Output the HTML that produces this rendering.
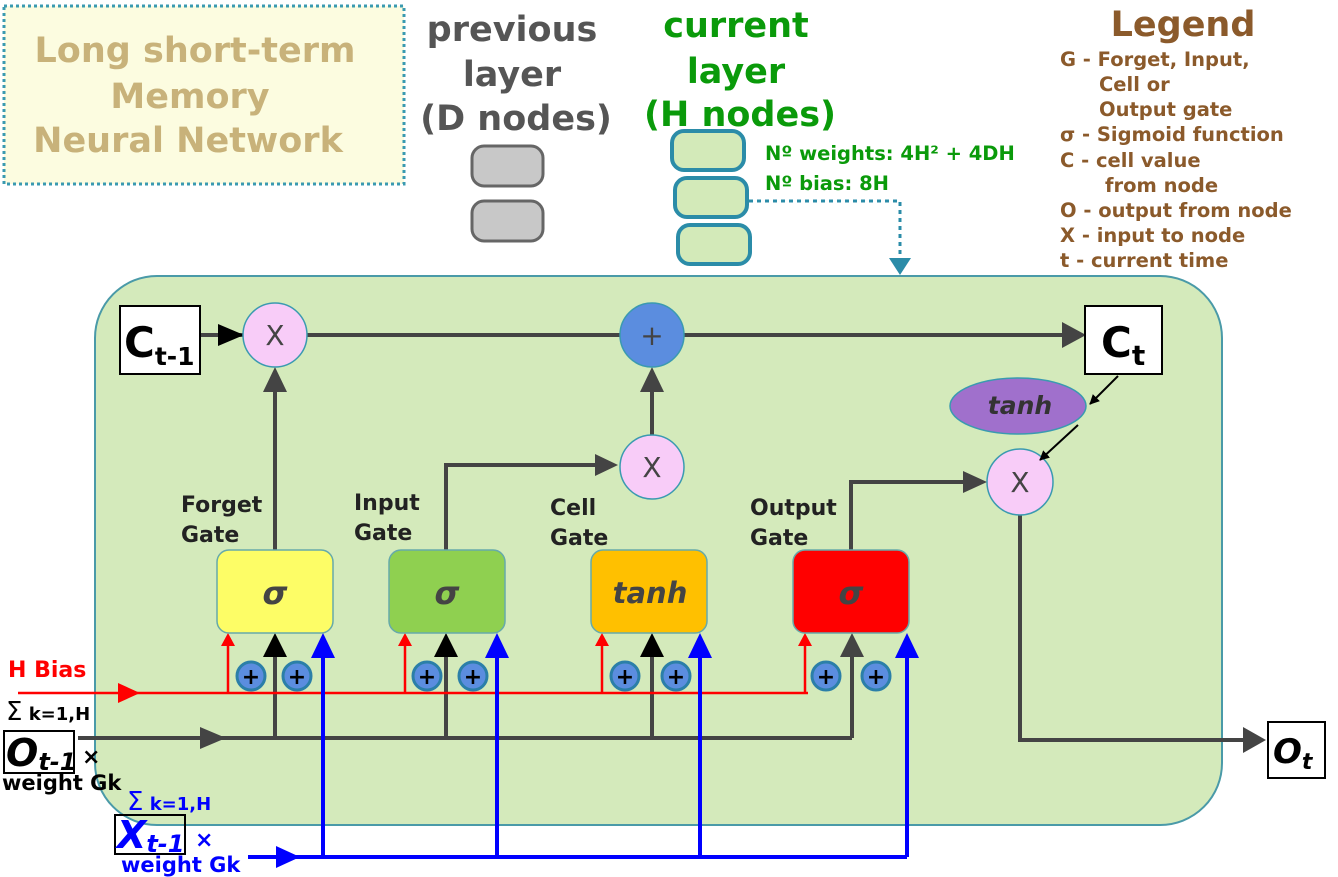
<!DOCTYPE html>
<html><head><meta charset="utf-8"><style>
html,body{margin:0;padding:0;background:#fff;}
svg{display:block;font-family:"DejaVu Sans","Liberation Sans",sans-serif;font-weight:bold;}
</style></head><body>
<svg width="1338" height="877" viewBox="0 0 1338 877" xmlns="http://www.w3.org/2000/svg">
<defs>
<marker id="ak" markerWidth="10" markerHeight="10" refX="9" refY="5" orient="auto" markerUnits="userSpaceOnUse" viewBox="0 0 10 10"><path d="M0,0 L10,5 L0,10z" fill="#000"/></marker>
</defs>
<rect x="4" y="6" width="400" height="178" fill="#fcfce0" stroke="#3a9ab0" stroke-width="3" stroke-dasharray="3,3"/>
<g fill="#c8b27a" font-size="35" text-anchor="middle">
<text x="195" y="62">Long short-term</text>
<text x="190" y="108">Memory</text>
<text x="188" y="152">Neural Network</text>
</g>
<g fill="#555" font-size="35" text-anchor="middle">
<text x="512" y="41">previous</text>
<text x="512" y="86">layer</text>
<text x="516" y="130">(D nodes)</text>
</g>
<rect x="472" y="146" width="71" height="40" rx="12" fill="#c8c8c8" stroke="#666" stroke-width="3"/>
<rect x="472" y="201" width="71" height="40" rx="12" fill="#c8c8c8" stroke="#666" stroke-width="3"/>
<g fill="#0a9a0a" font-size="35" text-anchor="middle">
<text x="736" y="37">current</text>
<text x="736" y="83">layer</text>
<text x="740" y="126">(H nodes)</text>
</g>
<g fill="#d3eab9" stroke="#2b8ca8" stroke-width="4">
<rect x="672" y="131" width="72" height="39" rx="12"/>
<rect x="675" y="178" width="72" height="39" rx="12"/>
<rect x="678" y="225" width="72" height="39" rx="12"/>
</g>
<g fill="#0a9a0a" font-size="19.5">
<text x="765" y="160">Nº weights: 4H² + 4DH</text>
<text x="765" y="190">Nº bias: 8H</text>
</g>
<path d="M749,201 H900 V258" fill="none" stroke="#2b8ca8" stroke-width="3" stroke-dasharray="4,4"/>
<path d="M889,258 L911,258 L900,275z" fill="#2b8ca8"/>
<text x="1183" y="36" fill="#8b5a2b" font-size="35" text-anchor="middle">Legend</text>
<g fill="#8b5a2b" font-size="19.5">
<text x="1060" y="66">G - Forget, Input,</text>
<text x="1099" y="91">Cell or</text>
<text x="1099" y="116">Output gate</text>
<text x="1060" y="141">σ  - Sigmoid function</text>
<text x="1060" y="167">C  - cell value</text>
<text x="1105" y="192">from node</text>
<text x="1060" y="217">O  - output from node</text>
<text x="1060" y="242">X -  input to node</text>
<text x="1060" y="267">t  -  current time</text>
</g>
<rect x="95" y="276" width="1127" height="549" rx="62" fill="#d4eabb" stroke="#4a9aa8" stroke-width="2"/>
<g stroke="#444" stroke-width="4" fill="none">
<line x1="200" y1="335" x2="1062" y2="335"/>
<line x1="275" y1="550" x2="275" y2="390"/>
<line x1="652" y1="435" x2="652" y2="390"/>
<path d="M446,550 V465 H597"/>
<path d="M851,550 V482 H965"/>
<path d="M1020,515 V740 H1245"/>
<line x1="78" y1="738" x2="852" y2="738"/>
<line x1="275" y1="738" x2="275" y2="655"/>
<line x1="446" y1="738" x2="446" y2="655"/>
<line x1="652" y1="738" x2="652" y2="655"/>
<line x1="852" y1="738" x2="852" y2="655"/>
</g>
<g fill="#444">
<path d="M1062,322 L1086,335 L1062,348z"/>
<path d="M218,324 L244,335 L218,346z" fill="#000"/>
<path d="M263,392 L287,392 L275,367z"/>
<path d="M640,392 L664,392 L652,367z"/>
<path d="M595,454 L618,465 L595,476z"/>
<path d="M963,471 L987,482 L963,493z"/>
<path d="M1243,727 L1266,740 L1243,753z"/>
<path d="M200,727 L226,738 L200,749z"/>
<path d="M840,657 L864,657 L852,633z"/>
</g>
<g fill="#000">
<path d="M263,657 L287,657 L275,633z"/>
<path d="M434,657 L458,657 L446,633z"/>
<path d="M640,657 L664,657 L652,633z"/>
</g>
<g stroke="#f00" stroke-width="2.5" fill="none">
<line x1="18" y1="693" x2="808" y2="693"/>
<line x1="228" y1="693" x2="228" y2="645"/>
<line x1="405" y1="693" x2="405" y2="645"/>
<line x1="602" y1="693" x2="602" y2="645"/>
<line x1="805" y1="693" x2="805" y2="645"/>
</g>
<g fill="#f00">
<path d="M118,683 L140,693 L118,703z"/>
<path d="M221,646 L235,646 L228,633z"/>
<path d="M398,646 L412,646 L405,633z"/>
<path d="M595,646 L609,646 L602,633z"/>
<path d="M798,646 L812,646 L805,633z"/>
</g>
<g stroke="#00f" stroke-width="4" fill="none">
<line x1="248" y1="857" x2="907" y2="857"/>
<line x1="323" y1="857" x2="323" y2="655"/>
<line x1="497" y1="857" x2="497" y2="655"/>
<line x1="700" y1="857" x2="700" y2="655"/>
<line x1="907" y1="857" x2="907" y2="655"/>
</g>
<g fill="#00f">
<path d="M276,846 L300,857 L276,868z"/>
<path d="M311,658 L335,658 L323,633z"/>
<path d="M485,658 L509,658 L497,633z"/>
<path d="M688,658 L712,658 L700,633z"/>
<path d="M895,658 L919,658 L907,633z"/>
</g>
<g fill="#5b8ddf" stroke="#2b7fa8" stroke-width="3">
<circle cx="251" cy="676" r="14"/><circle cx="297" cy="676" r="14"/>
<circle cx="427" cy="676" r="14"/><circle cx="473" cy="676" r="14"/>
<circle cx="625" cy="676" r="14"/><circle cx="676" cy="676" r="14"/>
<circle cx="826" cy="676" r="14"/><circle cx="876" cy="676" r="14"/>
</g>
<g fill="#000" font-size="22" text-anchor="middle">
<text x="251" y="684">+</text><text x="297" y="684">+</text>
<text x="427" y="684">+</text><text x="473" y="684">+</text>
<text x="625" y="684">+</text><text x="676" y="684">+</text>
<text x="826" y="684">+</text><text x="876" y="684">+</text>
</g>
<rect x="217" y="550" width="116" height="83" rx="12" fill="#fdfd66" stroke="#6aa" stroke-width="1.5"/>
<rect x="389" y="550" width="116" height="83" rx="12" fill="#8fd050" stroke="#6aa" stroke-width="1.5"/>
<rect x="591" y="550" width="116" height="83" rx="12" fill="#ffc000" stroke="#6aa" stroke-width="1.5"/>
<rect x="793" y="550" width="116" height="83" rx="12" fill="#f00" stroke="#6aa" stroke-width="1.5"/>
<g fill="#444" font-size="32" font-style="italic" text-anchor="middle">
<text x="275" y="604">σ</text><text x="447" y="604">σ</text><text x="851" y="604">σ</text>
<text x="650" y="603" font-size="29">tanh</text>
</g>
<g fill="#222" font-size="22">
<text x="181" y="512">Forget</text><text x="181" y="542">Gate</text>
<text x="354" y="510">Input</text><text x="354" y="540">Gate</text>
<text x="550" y="515">Cell</text><text x="550" y="545">Gate</text>
<text x="750" y="515">Output</text><text x="750" y="545">Gate</text>
</g>
<g stroke="#3a9ab0" stroke-width="1.5">
<circle cx="275" cy="335" r="32" fill="#f8ccf8"/>
<circle cx="652" cy="335" r="32" fill="#5b8ddf"/>
<circle cx="652" cy="467" r="32" fill="#f8ccf8"/>
<circle cx="1020" cy="482" r="33" fill="#f8ccf8"/>
</g>
<g fill="#444" font-size="28" font-weight="normal" text-anchor="middle">
<text x="275" y="345">X</text><text x="652" y="345">+</text><text x="652" y="477">X</text><text x="1020" y="492">X</text>
</g>
<ellipse cx="1018" cy="406" rx="68" ry="28" fill="#a070cc" stroke="#3a9ab0" stroke-width="1.5"/>
<text x="1020" y="414" fill="#333" font-size="25" font-style="italic" text-anchor="middle">tanh</text>
<g stroke="#000" stroke-width="2"><line x1="1118" y1="376" x2="1090" y2="404" marker-end="url(#ak)"/><line x1="1078" y1="425" x2="1040" y2="460" marker-end="url(#ak)"/></g>
<rect x="120" y="306" width="80" height="68" fill="#fff" stroke="#000" stroke-width="2"/>
<text x="124" y="357" font-size="42" fill="#000">C<tspan font-size="25" dy="8">t-1</tspan></text>
<rect x="1085" y="306" width="77" height="68" fill="#fff" stroke="#000" stroke-width="2"/>
<text x="1101" y="357" font-size="42" fill="#000">C<tspan font-size="28" dy="8">t</tspan></text>
<rect x="1268" y="722" width="57" height="56" fill="#fff" stroke="#000" stroke-width="2"/>
<text x="1273" y="763" font-size="34" font-style="italic" fill="#000">O<tspan font-size="22" dy="6">t</tspan></text>
<text x="8" y="677" fill="#f00" font-size="22">H Bias</text>
<text x="6" y="720" fill="#000" font-size="26" font-weight="normal">Σ<tspan font-size="18" font-weight="bold"> k=1,H</tspan></text>
<rect x="4" y="731" width="70" height="42" fill="none" stroke="#000" stroke-width="2"/>
<text x="6" y="766" font-size="38" font-style="italic" fill="#000">O<tspan font-size="24" dy="4">t-1</tspan></text>
<text x="82" y="764" font-size="22" fill="#000" font-style="italic">×</text>
<text x="2" y="790" fill="#000" font-size="21">weight Gk</text>
<text x="127" y="810" fill="#00f" font-size="26" font-weight="normal">Σ<tspan font-size="18" font-weight="bold"> k=1,H</tspan></text>
<rect x="115" y="815" width="70" height="39" fill="none" stroke="#000" stroke-width="2"/>
<text x="117" y="848" font-size="38" font-style="italic" fill="#00f">X<tspan font-size="24" dy="4">t-1</tspan></text>
<text x="195" y="847" font-size="22" fill="#00f" font-style="italic">×</text>
<text x="121" y="872" fill="#00f" font-size="21">weight Gk</text>
</svg>
</body></html>
